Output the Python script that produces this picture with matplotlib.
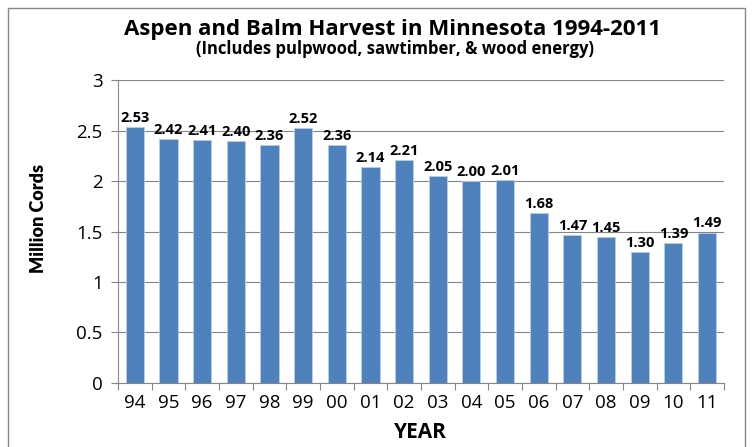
import matplotlib
matplotlib.use("Agg")
import matplotlib.pyplot as plt
from matplotlib.patches import Rectangle

years = ["94", "95", "96", "97", "98", "99", "00", "01", "02", "03", "04", "05",
         "06", "07", "08", "09", "10", "11"]
values = [2.53, 2.42, 2.41, 2.40, 2.36, 2.52, 2.36, 2.14, 2.21, 2.05, 2.00, 2.01,
          1.68, 1.47, 1.45, 1.30, 1.39, 1.49]
yticks = [0, 0.5, 1, 1.5, 2, 2.5, 3]
ytick_labels = ["0", "0.5", "1", "1.5", "2", "2.5", "3"]

plt.rcParams['font.family'] = ['Open Sans', 'DejaVu Sans']

fig = plt.figure(figsize=(7.54, 4.47), dpi=100)
ax = fig.add_axes([0.1565, 0.1432, 0.8035, 0.6778])

x = list(range(len(years)))
bars = ax.bar(x, values, width=0.54, color="#4F81BD", edgecolor="#B9CDE5",
              linewidth=0.6, zorder=3)
for xi, v in zip(x, values):
    ax.text(xi, v + 0.02, f"{v:.2f}", ha="center", va="bottom",
            fontsize=10.5, fontweight="bold", color="#000000", zorder=4)

ax.set_xlim(-0.5, len(years) - 0.5)
ax.set_ylim(0, 3)
ax.set_yticks(yticks)
ax.set_yticklabels(ytick_labels)
ax.set_xticks(x)
ax.set_xticklabels(years)
ax.set_xticks([i - 0.5 for i in range(len(years) + 1)], minor=True)
ax.tick_params(axis="x", which="major", length=0, labelsize=13.5, pad=8)
ax.tick_params(axis="x", which="minor", length=5, color="#868686", width=0.8)
ax.tick_params(axis="y", which="major", length=5, color="#868686", width=0.8,
               labelsize=13.5, pad=6)
ax.grid(axis="y", color="#868686", linewidth=0.8, zorder=0)
for s in ["top", "right"]:
    ax.spines[s].set_visible(False)
for s in ["left", "bottom"]:
    ax.spines[s].set_color("#868686")
    ax.spines[s].set_linewidth(0.8)

fig.text(0.051, 0.512, "Million Cords", rotation=90, ha="center", va="center",
         fontsize=13, fontweight="heavy", family=['Lato', 'DejaVu Sans'])
fig.text(0.558, 1 - 433 / 447, "YEAR", ha="center", va="center",
         fontsize=15, fontweight="bold")

fig.text(0.521, 0.935, "Aspen and Balm Harvest in Minnesota 1994-2011",
         ha="center", va="center", fontsize=16, fontweight="bold")
fig.text(0.524, 0.891, "(Includes pulpwood, sawtimber, & wood energy)",
         ha="center", va="center", fontsize=12, fontweight="bold")

fig.patches.append(Rectangle((8 / 754, -0.1), (745 - 8) / 754, 1.1 - 8 / 447,
                             transform=fig.transFigure, fill=False,
                             edgecolor="#868686", linewidth=1.0))

fig.savefig("out.png", dpi=100)
